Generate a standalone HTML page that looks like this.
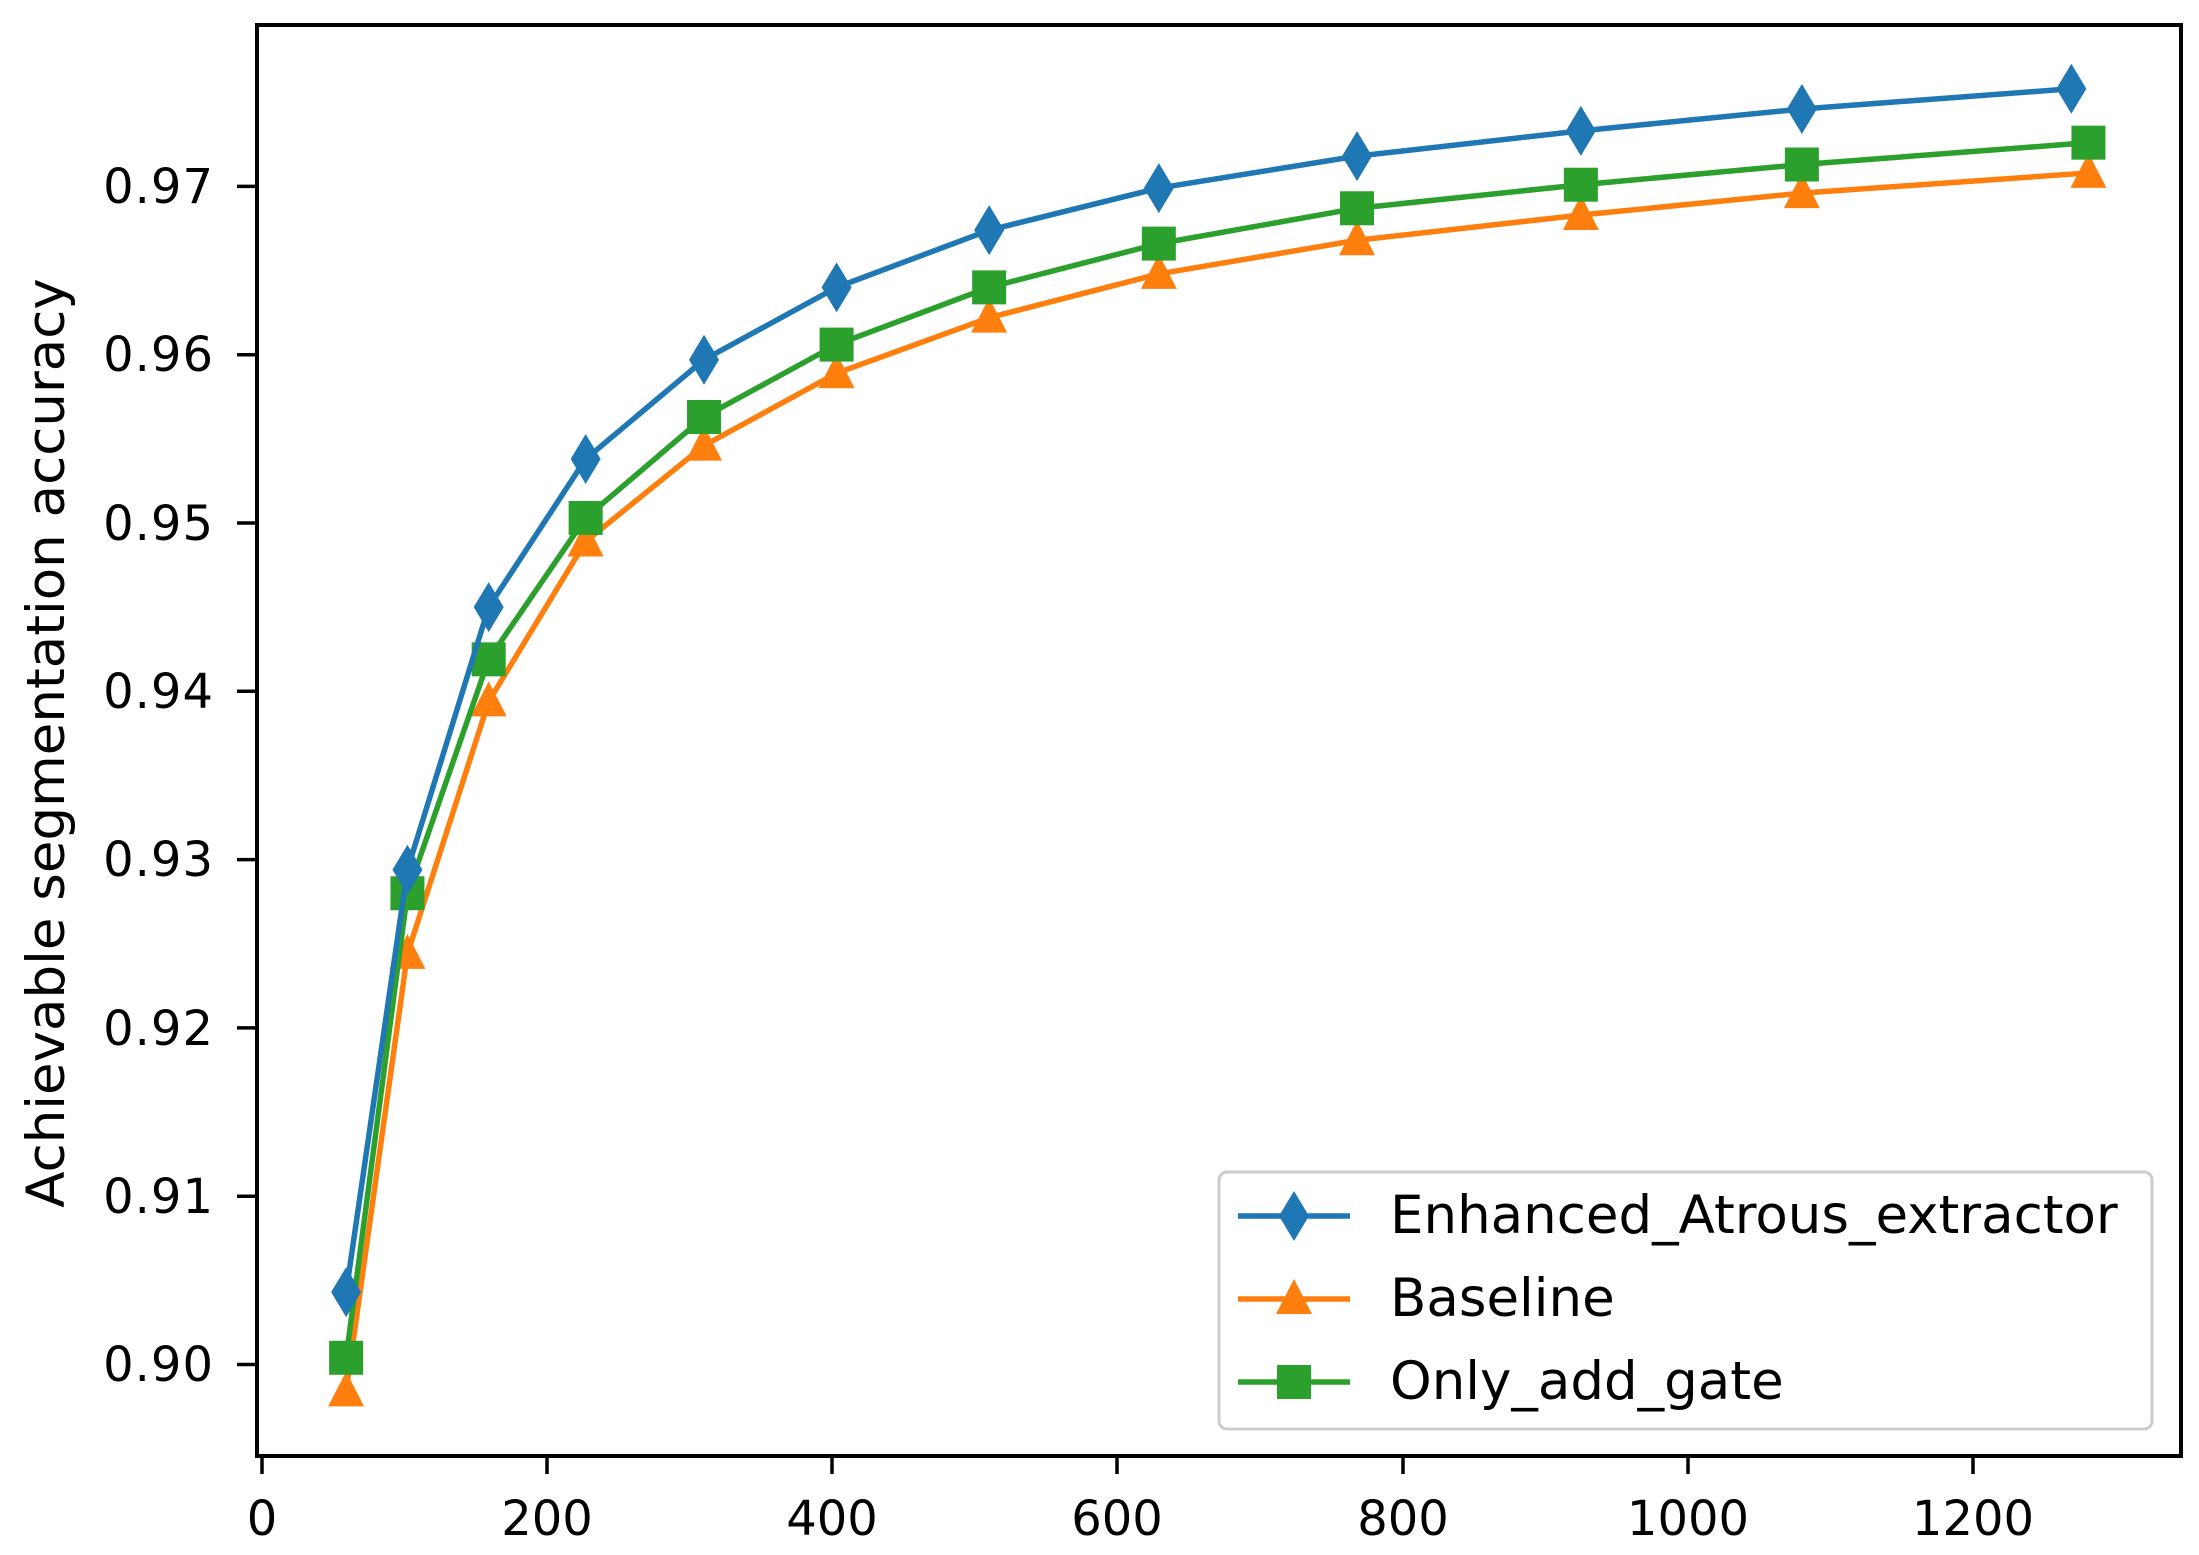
<!DOCTYPE html>
<html><head><meta charset="utf-8"><style>
html,body{margin:0;padding:0;background:#fff}
svg{display:block}
text{font-family:"DejaVu Sans","Liberation Sans",sans-serif;fill:#000}
</style></head><body>
<svg id="s" width="2199" height="1555" viewBox="0 0 2199 1555" xmlns="http://www.w3.org/2000/svg">
<rect x="0" y="0" width="2199" height="1555" fill="#fff"/>
<g id="plot"></g>
<rect x="257" y="25" width="1924" height="1431" fill="none" stroke="#000" stroke-width="4"/>
<g stroke="#000" stroke-width="3.5">
<line x1="262" y1="1456" x2="262" y2="1474"/><line x1="547" y1="1456" x2="547" y2="1474"/><line x1="832" y1="1456" x2="832" y2="1474"/><line x1="1117" y1="1456" x2="1117" y2="1474"/><line x1="1403" y1="1456" x2="1403" y2="1474"/><line x1="1688" y1="1456" x2="1688" y2="1474"/><line x1="1973" y1="1456" x2="1973" y2="1474"/>
<line x1="237" y1="1364.5" x2="257" y2="1364.5"/><line x1="237" y1="1196.2" x2="257" y2="1196.2"/><line x1="237" y1="1027.9" x2="257" y2="1027.9"/><line x1="237" y1="859.6" x2="257" y2="859.6"/><line x1="237" y1="691.3" x2="257" y2="691.3"/><line x1="237" y1="523" x2="257" y2="523"/><line x1="237" y1="354.7" x2="257" y2="354.7"/><line x1="237" y1="186.4" x2="257" y2="186.4"/>
</g>
<g font-size="48" text-anchor="middle">
<text x="262" y="1535">0</text><text x="547" y="1535">200</text><text x="832" y="1535">400</text><text x="1117" y="1535">600</text><text x="1403" y="1535">800</text><text x="1688" y="1535">1000</text><text x="1973" y="1535">1200</text>
</g>
<g font-size="48" text-anchor="end" letter-spacing="1">
<text x="214" y="1381">0.90</text><text x="214" y="1213">0.91</text><text x="214" y="1045">0.92</text><text x="214" y="876">0.93</text><text x="214" y="708">0.94</text><text x="214" y="540">0.95</text><text x="214" y="371">0.96</text><text x="214" y="203">0.97</text>
</g>
<text font-size="53" text-anchor="middle" transform="translate(64,743) rotate(-90)">Achievable segmentation accuracy</text>
<rect x="1219" y="1172" width="933" height="257" rx="8" fill="#fff" fill-opacity="0.8" stroke="#ccc" stroke-width="3"/>
<g id="leg"></g>
<g font-size="53">
<text x="1390" y="1233">Enhanced_Atrous_extractor</text>
<text x="1390" y="1316">Baseline</text>
<text x="1390" y="1399">Only_add_gate</text>
</g>
</svg>
<script>
var NS="http://www.w3.org/2000/svg";
function X(x){return 262+1.4258*x}
function Y(v){return 1364.5-(v-0.90)*16830}
var xs=[59,102,159,227,310,403,510,629,768,925,1080,1281];
var xb=[59,102,159,227,310,403,510,629,768,925,1080,1269];
var series=[
{c:"#ff7f0e",m:"t",x:xs,y:[0.8984,0.9244,0.9394,0.9489,0.9546,0.9589,0.9622,0.9648,0.9668,0.9683,0.9696,0.9708]},
{c:"#2ca02c",m:"s",x:xs,y:[0.9004,0.9280,0.9419,0.9503,0.9563,0.9606,0.9640,0.9666,0.9687,0.9701,0.9713,0.9726]},
{c:"#1f77b4",m:"d",x:xb,y:[0.9043,0.9294,0.9450,0.9538,0.9597,0.9640,0.9674,0.9699,0.9718,0.9733,0.9746,0.9758]}
];
function el(n,a,p){var e=document.createElementNS(NS,n);for(var k in a)e.setAttribute(k,a[k]);p.appendChild(e);return e}
function mark(m,cx,cy,c,p){
 if(m=="d")el("polygon",{points:(cx)+","+(cy-25)+" "+(cx+15)+","+cy+" "+cx+","+(cy+25)+" "+(cx-15)+","+cy,fill:c},p);
 else if(m=="s")el("rect",{x:cx-17,y:cy-17,width:34,height:34,fill:c},p);
 else el("polygon",{points:cx+","+(cy-20)+" "+(cx+18)+","+(cy+15)+" "+(cx-18)+","+(cy+15),fill:c},p);
}
var g=document.getElementById("plot");
series.forEach(function(s){
 var pts=s.x.map(function(x,i){return X(x)+","+Y(s.y[i])}).join(" ");
 el("polyline",{points:pts,fill:"none",stroke:s.c,"stroke-width":5.5,"stroke-linejoin":"round"},g);
 s.x.forEach(function(x,i){mark(s.m,X(x),Y(s.y[i]),s.c,g)});
});
var lg=document.getElementById("leg");
[["#1f77b4","d",1216],["#ff7f0e","t",1299],["#2ca02c","s",1382]].forEach(function(r){
 el("line",{x1:1238,y1:r[2],x2:1350,y2:r[2],stroke:r[0],"stroke-width":5.5},lg);
 mark(r[1],1294,r[2],r[0],lg);
});
</script>
</body></html>
